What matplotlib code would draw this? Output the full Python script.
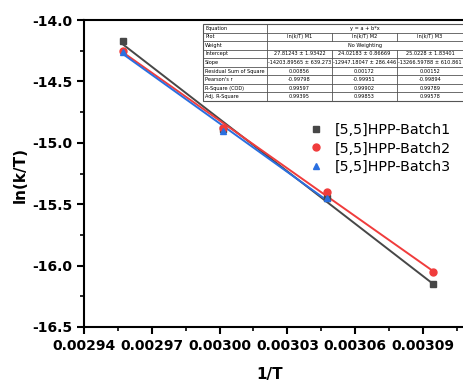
import numpy as np
import matplotlib
matplotlib.use("Agg")
import matplotlib.pyplot as plt
from matplotlib.ticker import MultipleLocator, FormatStrFormatter
from matplotlib.patches import Rectangle

plt.rcParams['axes.unicode_minus'] = False
plt.rcParams['font.family'] = ['DejaVu Sans']

# ---- data ----
inv_T = [0.0029573, 0.0030017, 0.0030474, 0.0030945]
batch1 = [-14.17, -14.89, -15.45, -16.15]
batch2 = [-14.25, -14.88, -15.40, -16.055]
inv_T3 = [0.0029573, 0.0030017, 0.0030474]
batch3 = [-14.26, -14.90, -15.45]
labels = ["[5,5]HPP-Batch1", "[5,5]HPP-Batch2", "[5,5]HPP-Batch3"]
colors = ["#474747", "#f03c3c", "#2a6fe0"]
markers = ["s", "o", "^"]

table_rows = ["Equation", "Plot", "Weight", "Intercept", "Slope",
              "Residual Sum of Square", "Pearson's r", "R-Square (COD)", "Adj. R-Square"]
table_plot = ["ln(k/T) M1", "ln(k/T) M2", "ln(k/T) M3"]
table_intercept = ["27.81243 ± 1.93422", "24.02183 ± 0.86669", "25.0228 ± 1.83401"]
table_slope = ["-14203.89565 ± 639.273", "-12947.18047 ± 286.446", "-13266.59788 ± 610.861"]
table_rss = ["0.00856", "0.00172", "0.00152"]
table_r = ["-0.99798", "-0.99951", "-0.99894"]
table_r2 = ["0.99597", "0.99902", "0.99789"]
table_adj = ["0.99395", "0.99853", "0.99578"]

W, H = 463, 383
fig = plt.figure(figsize=(W / 100, H / 100), dpi=100)
ax = fig.add_axes([84 / W, 1 - 327 / H, 388.7 / W, 307 / H])

series = [(inv_T, batch1), (inv_T, batch2), (inv_T3, batch3)]
for (xs, ys), lab, c, m in zip(series, labels, colors, markers):
    xs = np.array(xs); ys = np.array(ys)
    b, a = np.polyfit(xs, ys, 1)
    xx = np.array([xs.min(), xs.max()])
    ax.plot(xx, a + b * xx, color=c, lw=1.4, zorder=2)
    ax.plot(xs, ys, ls='none', marker=m, color=c, ms=5, label=lab, zorder=3)

ax.set_xlim(0.00294, 0.003112)
ax.set_ylim(-16.5, -14.0)
ax.xaxis.set_major_locator(MultipleLocator(0.00003))
ax.xaxis.set_minor_locator(MultipleLocator(0.000015))
ax.yaxis.set_major_locator(MultipleLocator(0.5))
ax.yaxis.set_minor_locator(MultipleLocator(0.25))
ax.xaxis.set_major_formatter(FormatStrFormatter('%.5f'))
ax.yaxis.set_major_formatter(FormatStrFormatter('%.1f'))
ax.tick_params(which='major', direction='out', length=5, width=1.5, labelsize=10)
ax.tick_params(which='minor', direction='out', length=3, width=1.2)
for lbl in ax.get_xticklabels() + ax.get_yticklabels():
    lbl.set_fontweight('bold')
for s in ax.spines.values():
    s.set_linewidth(1.5)
ax.spines['right'].set_visible(False)

fig.text(270 / W, 1 - 375 / H, "1/T", ha='center', va='center', fontsize=11, fontweight='bold')
fig.text(20 / W, 1 - 175 / H, "ln(k/T)", ha='center', va='center', rotation=90,
         fontsize=11, fontweight='bold')

fig.legend(loc='upper left', bbox_to_anchor=(300 / W, 1 - 116 / H), frameon=False,
           fontsize=10.3, handlelength=1.2, handletextpad=0.7, labelspacing=0.3, borderpad=0)

# ---- fit result table ----
col_x = [203, 267, 332, 397, 470]
row_h = (101 - 24) / 9
line_c = "#555555"
fs = 3.6

def fx(px):
    return px / W

def fy(py):
    return 1 - py / H

fig.patches.append(Rectangle((fx(203), fy(101)), fx(470) - fx(203), fy(24) - fy(101),
                             transform=fig.transFigure, facecolor='white',
                             edgecolor=line_c, lw=0.8, zorder=5))
for i in range(1, 9):
    y = 24 + i * row_h
    fig.add_artist(plt.Line2D([fx(203), fx(470)], [fy(y), fy(y)], color=line_c, lw=0.6,
                              transform=fig.transFigure, zorder=6))
fig.add_artist(plt.Line2D([fx(267), fx(267)], [fy(24), fy(101)], color=line_c, lw=0.6,
                          transform=fig.transFigure, zorder=6))
for cx in col_x[2:4]:
    for r in range(9):
        if r in (0, 2):
            continue
        y0 = 24 + r * row_h
        fig.add_artist(plt.Line2D([fx(cx), fx(cx)], [fy(y0), fy(y0 + row_h)], color=line_c,
                                  lw=0.6, transform=fig.transFigure, zorder=6))

cell_vals = [None, table_plot, None, table_intercept, table_slope, table_rss, table_r,
             table_r2, table_adj]
for r, name in enumerate(table_rows):
    yc = fy(24 + (r + 0.5) * row_h)
    fig.text(fx(205), yc, name, ha='left', va='center', fontsize=fs, zorder=7)
    vals = cell_vals[r]
    if r == 0:
        fig.text(fx((267 + 463) / 2), yc, "y = a + b*x", ha='center', va='center', fontsize=fs, zorder=7)
    elif r == 2:
        fig.text(fx((267 + 463) / 2), yc, "No Weighting", ha='center', va='center', fontsize=fs, zorder=7)
    else:
        for k, v in enumerate(vals):
            xc = (col_x[k + 1] + min(col_x[k + 2], 463)) / 2
            if k == 2:
                xc = 430
            fig.text(fx(xc), yc, v, ha='center', va='center', fontsize=fs, zorder=7)

fig.savefig("out.png", dpi=100)
